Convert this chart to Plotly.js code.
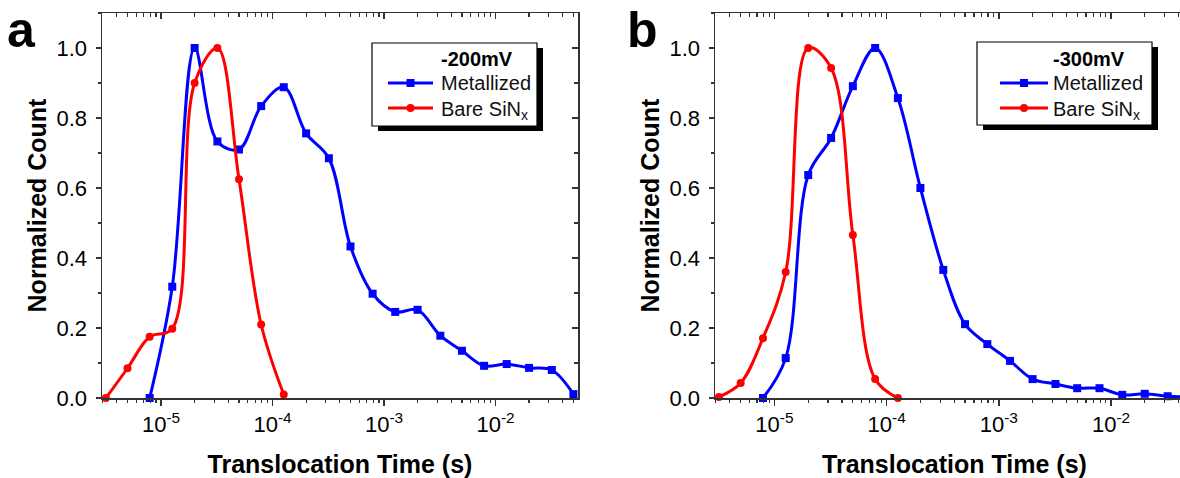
<!DOCTYPE html>
<html>
<head>
<meta charset="utf-8">
<script src="https://cdn.plot.ly/plotly-3.0.1.min.js"></script>
<style>
html, body { margin:0; padding:0; overflow:hidden; background:#fff; }
#chart { width:1200px; height:478px; }
</style>
</head>
<body>
<div id="chart"></div>
<script>
// ---------- data ----------
// Panel a, -200 mV
const aMetTime  = [7.9e-6, 1.26e-5, 2.0e-5, 3.2e-5, 5.0e-5, 7.9e-5, 1.26e-4, 2.0e-4, 3.2e-4, 5.0e-4,
                   7.9e-4, 1.26e-3, 2.0e-3, 3.2e-3, 5.0e-3, 7.9e-3, 1.26e-2, 2.0e-2, 3.2e-2, 5.0e-2];
const aMetCount = [0.0, 0.318, 1.0, 0.733, 0.71, 0.834, 0.888, 0.756, 0.685, 0.433,
                   0.298, 0.246, 0.252, 0.178, 0.135, 0.092, 0.097, 0.086, 0.080, 0.011];
const aBareTime  = [3.2e-6, 5.0e-6, 7.9e-6, 1.26e-5, 2.0e-5, 3.2e-5, 5.0e-5, 7.9e-5, 1.26e-4];
const aBareCount = [0.0, 0.085, 0.175, 0.198, 0.90, 1.0, 0.625, 0.21, 0.01];

// Panel b, -300 mV
const bMetTime  = [7.9e-6, 1.26e-5, 2.0e-5, 3.2e-5, 5.0e-5, 7.9e-5, 1.26e-4, 2.0e-4, 3.2e-4, 5.0e-4,
                   7.9e-4, 1.26e-3, 2.0e-3, 3.2e-3, 5.0e-3, 7.9e-3, 1.26e-2, 2.0e-2, 3.2e-2, 5.0e-2];
const bMetCount = [0.0, 0.114, 0.637, 0.743, 0.891, 1.0, 0.857, 0.60, 0.366, 0.211,
                   0.154, 0.106, 0.054, 0.040, 0.028, 0.028, 0.009, 0.012, 0.005, 0.003];
const bBareTime  = [3.2e-6, 5.0e-6, 7.9e-6, 1.26e-5, 2.0e-5, 3.2e-5, 5.0e-5, 7.9e-5, 1.26e-4];
const bBareCount = [0.003, 0.043, 0.171, 0.36, 1.0, 0.943, 0.466, 0.054, 0.0];

const seriesNames = ['Metallized', 'Bare SiN<sub>x</sub>'];
const panelTitles = ['-200mV', '-300mV'];
const panelLabels = ['a', 'b'];
const xTitle = 'Translocation Time (s)';
const yTitle = 'Normalized Count';
const xTickVals = [1e-5, 1e-4, 1e-3, 1e-2];
const xTickText = ['10<sup>-5</sup>', '10<sup>-4</sup>', '10<sup>-3</sup>', '10<sup>-2</sup>'];
const decades = [1e-6, 1e-5, 1e-4, 1e-3, 1e-2];
const minorMult = [2, 3, 4, 5, 6, 7, 8, 9];

// ---------- styling / geometry ----------
const W = 1200, H = 478;
const FONT = 'Arial, "Liberation Sans", sans-serif';
const BLUE = '#0000FF', RED = '#FF0000';
const AX = '#333333';
const px = v => v / W;
const py = v => 1 - v / H;
const XR = [-5.53, -1.26];
const YR = [0, 1.1];
const yDom = [py(398), py(13)];
const xDomA = [px(102), px(578)];
const xDomB = [px(715), px(1194)];
const minorVals = [];
decades.forEach(d => minorMult.forEach(m => minorVals.push(d * m)));

function curve(x, y, name, color, symbol, xa, ya) {
  return {
    x: x, y: y, name: name, xaxis: xa, yaxis: ya,
    type: 'scatter', mode: 'lines+markers', showlegend: false, cliponaxis: false,
    line: { color: color, width: 3, shape: 'spline', smoothing: 1 },
    marker: { color: color, symbol: symbol, size: 8 }
  };
}
function dummy(xa, ya) {
  return { x: [], y: [], xaxis: xa, yaxis: ya, type: 'scatter', mode: 'markers', showlegend: false, hoverinfo: 'skip' };
}

const traces = [
  curve(aMetTime, aMetCount, 'Metallized', BLUE, 'square', 'x', 'y'),
  curve(aBareTime, aBareCount, 'Bare SiNx', RED, 'circle', 'x', 'y'),
  curve(bMetTime, bMetCount, 'Metallized', BLUE, 'square', 'x2', 'y2'),
  curve(bBareTime, bBareCount, 'Bare SiNx', RED, 'circle', 'x2', 'y2'),
  dummy('x3', 'y3'), dummy('x4', 'y4'),
  dummy('x5', 'y'), dummy('x6', 'y2'),
  dummy('x7', 'y'), dummy('x8', 'y2')
];

function xMain(dom, anchor) {
  return {
    domain: dom, anchor: anchor, type: 'log', range: XR, autorange: false,
    tickmode: 'array', tickvals: xTickVals, ticktext: xTickText,
    ticks: 'outside', ticklen: 6, tickwidth: 1.5, tickcolor: AX,
    showline: true, linecolor: AX, linewidth: 1.5, showgrid: false, zeroline: false,
    tickfont: { family: FONT, size: 22, color: '#000' },
    title: { text: '<b>' + xTitle + '</b>', font: { family: FONT, size: 25, color: '#000' }, standoff: 19 },
    automargin: false, fixedrange: true
  };
}
// extra log axes used only for tick marks (minor bottom, major/minor top)
function xTicksOnly(over, anchor, side, vals, dir, len, width, line) {
  return {
    overlaying: over, anchor: anchor, side: side, type: 'log', range: XR, autorange: false,
    tickmode: 'array', tickvals: vals, ticks: dir, ticklen: len, tickwidth: width, tickcolor: AX,
    showticklabels: false, showline: line, linecolor: AX, linewidth: 1.5,
    showgrid: false, zeroline: false, automargin: false, fixedrange: true
  };
}
function yMain(anchor) {
  return {
    domain: yDom, anchor: anchor, range: YR, autorange: false,
    dtick: 0.2, tick0: 0, tickformat: '.1f',
    ticks: 'outside', ticklen: 5, tickwidth: 1.5, tickcolor: AX,
    minor: { ticks: 'outside', ticklen: 3, tickwidth: 1.2, tickcolor: AX, dtick: 0.1, tick0: 0, showgrid: false },
    showline: true, linecolor: AX, linewidth: 1.5, showgrid: false, zeroline: false,
    tickfont: { family: FONT, size: 22, color: '#000' }, ticklabelstandoff: 4,
    title: { text: '<b>' + yTitle + '</b>', font: { family: FONT, size: 25, color: '#000' }, standoff: 3 },
    automargin: false, fixedrange: true
  };
}
function yRight(over, anchor) {
  return {
    overlaying: over, anchor: anchor, side: 'right', range: YR, autorange: false,
    dtick: 0.2, tick0: 0, ticks: 'inside', ticklen: 6, tickwidth: 1.5, tickcolor: AX,
    minor: { ticks: 'inside', ticklen: 4, tickwidth: 1.2, tickcolor: AX, dtick: 0.1, tick0: 0, showgrid: false },
    showticklabels: false, showline: true, linecolor: AX, linewidth: 1.5,
    showgrid: false, zeroline: false, automargin: false, fixedrange: true
  };
}

// legend boxes drawn as shapes + annotations
const shapes = [];
const annotations = [];
function legendBox(bx0, by0, bx1, by1, lx0, lx1, tx, title) {
  shapes.push({ type: 'rect', xref: 'paper', yref: 'paper', layer: 'above',
    x0: px(bx0 + 6), x1: px(bx1 + 6), y0: py(by0 + 5), y1: py(by1 + 5),
    fillcolor: '#000', line: { width: 0 } });
  shapes.push({ type: 'rect', xref: 'paper', yref: 'paper', layer: 'above',
    x0: px(bx0), x1: px(bx1), y0: py(by0), y1: py(by1),
    fillcolor: '#fff', line: { color: '#000', width: 1.2 } });
  const rows = [83, 108];
  const cols = [BLUE, RED];
  const lm = (lx0 + lx1) / 2;
  rows.forEach((ry, i) => {
    shapes.push({ type: 'line', xref: 'paper', yref: 'paper', layer: 'above',
      x0: px(lx0), x1: px(lx1), y0: py(ry), y1: py(ry), line: { color: cols[i], width: 3 } });
    shapes.push({ type: i === 0 ? 'rect' : 'circle', xref: 'paper', yref: 'paper', layer: 'above',
      xsizemode: 'pixel', ysizemode: 'pixel', xanchor: px(lm), yanchor: py(ry),
      x0: -4, x1: 4, y0: -4, y1: 4, fillcolor: cols[i], line: { width: 0 } });
    annotations.push({ xref: 'paper', yref: 'paper', x: px(tx), y: py(ry + (i === 1 ? 3 : 0)),
      xanchor: 'left', yanchor: 'middle', showarrow: false, text: seriesNames[i],
      font: { family: FONT, size: 20, color: '#111' } });
  });
  annotations.push({ xref: 'paper', yref: 'paper', x: px(tx), y: py(59),
    xanchor: 'left', yanchor: 'middle', showarrow: false, text: '<b>' + title + '</b>',
    font: { family: FONT, size: 20, color: '#000' } });
}
legendBox(372, 43, 537, 126, 388, 433, 439, panelTitles[0]);
legendBox(977, 42, 1152, 125, 1000, 1048, 1051, panelTitles[1]);

annotations.push({ xref: 'paper', yref: 'paper', x: px(5), y: py(30), xanchor: 'left', yanchor: 'middle',
  showarrow: false, text: '<b>' + panelLabels[0] + '</b>', font: { family: FONT, size: 50, color: '#000' } });
annotations.push({ xref: 'paper', yref: 'paper', x: px(625), y: py(30), xanchor: 'left', yanchor: 'middle',
  showarrow: false, text: '<b>' + panelLabels[1] + '</b>', font: { family: FONT, size: 50, color: '#000' } });

const layout = {
  width: W, height: H,
  margin: { l: 0, r: 0, t: 0, b: 0, pad: 0 },
  paper_bgcolor: '#fff', plot_bgcolor: '#fff',
  font: { family: FONT, color: '#000' },
  showlegend: false,
  xaxis: xMain(xDomA, 'y'),
  yaxis: yMain('x'),
  xaxis2: xMain(xDomB, 'y2'),
  yaxis2: yMain('x2'),
  xaxis3: xTicksOnly('x', 'y3', 'top', xTickVals, 'inside', 6, 1.5, true),
  yaxis3: yRight('y', 'x3'),
  xaxis4: xTicksOnly('x2', 'y4', 'top', xTickVals, 'inside', 6, 1.5, true),
  yaxis4: yRight('y2', 'x4'),
  xaxis5: xTicksOnly('x', 'y', 'bottom', minorVals, 'outside', 3.5, 1.2, false),
  xaxis6: xTicksOnly('x2', 'y2', 'bottom', minorVals, 'outside', 3.5, 1.2, false),
  xaxis7: xTicksOnly('x', 'y', 'top', minorVals, 'inside', 4, 1.2, false),
  xaxis8: xTicksOnly('x2', 'y2', 'top', minorVals, 'inside', 4, 1.2, false),
  shapes: shapes,
  annotations: annotations
};

Plotly.newPlot('chart', traces, layout, { staticPlot: true, displayModeBar: false });
</script>
</body>
</html>
